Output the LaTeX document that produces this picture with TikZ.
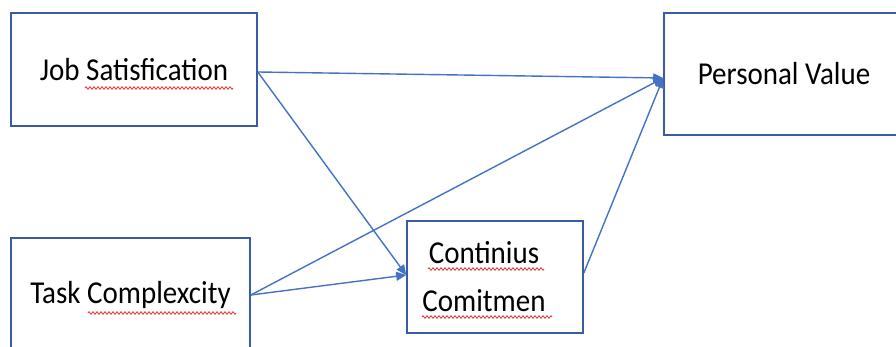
\documentclass[tikz,border=0pt]{standalone}
\usepackage{fontspec}
\setmainfont{Carlito}
\usetikzlibrary{arrows.meta,decorations.pathmorphing}
\definecolor{boxblue}{HTML}{3A5BA8}
\definecolor{linkblue}{HTML}{4472C4}
\definecolor{spellred}{HTML}{E8322E}
\tikzset{
  box/.style={draw=boxblue, line width=1.6pt, fill=white, rectangle, inner sep=0pt,
    font=\fontsize{29}{35}\selectfont, align=center},
  link/.style={draw=linkblue, line width=1.4pt, -{Triangle[length=10pt,width=9pt]}},
  squig/.style={draw=spellred, line width=0.8pt, decorate,
    decoration={zigzag, amplitude=1.3pt, segment length=4pt}}
}
\newcommand{\tallt}[1]{\scalebox{1}[1.1]{#1}}
\begin{document}
\begin{tikzpicture}[x=1pt,y=-1pt]
\useasboundingbox (0,0) rectangle (896,347);
\clip (0,0) rectangle (896,347);
\fill[white] (0,0) rectangle (896,347);
\node[box, minimum width=246pt, minimum height=113pt] (js) at (134,69.5) {\tallt{Job Satisfication}};
\node[box, minimum width=239pt, minimum height=114pt] (tc) at (130.5,295) {\tallt{Task Complexcity}};
\node[box, minimum width=176pt, minimum height=112pt] (cc) at (495,277) {\tallt{Continius}\hspace*{22pt}\\[13pt]\tallt{Comitmen}\hspace*{22pt}};
\node[box, minimum width=240pt, minimum height=122pt] (pv) at (784,74) {\tallt{Personal Value}};
\coordinate (pvin) at ([yshift=-4pt]pv.west);
\coordinate (ccin) at ([yshift=2pt]cc.west);
\coordinate (jsout) at ([yshift=-2.5pt]js.east);
\coordinate (ccout) at ([yshift=4pt]cc.east);
\draw[link] (jsout) -- (pvin);
\draw[link] (jsout) -- (ccin);
\draw[link] (tc.east) -- (pvin);
\draw[link] (tc.east) -- (ccin);
\draw[link] (ccout) -- (pvin);
\draw[squig] (85,88) -- (233,88);
\draw[squig] (88,313) -- (236,313);
\draw[squig] (428,269) -- (544,269);
\draw[squig] (422,317) -- (552,317);
\end{tikzpicture}
\end{document}
